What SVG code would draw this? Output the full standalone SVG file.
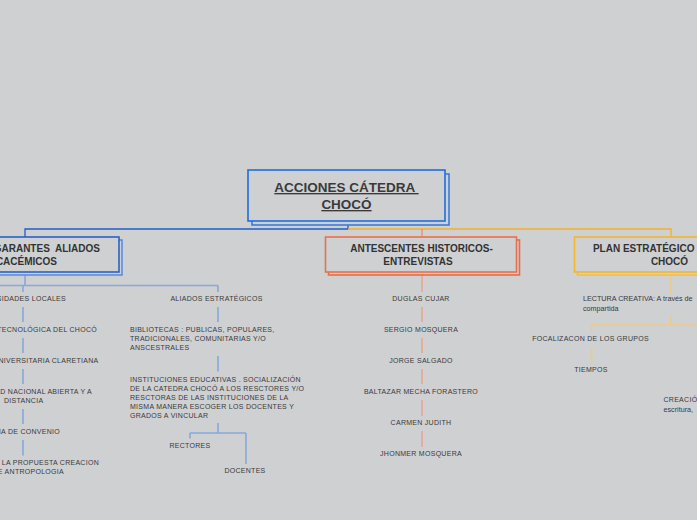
<svg xmlns="http://www.w3.org/2000/svg" width="697" height="520" viewBox="0 0 697 520">
<style>
.bg{fill:#cfd0d2}
.t{font-family:"Liberation Sans",Arial,sans-serif;font-size:7px;fill:#3a3a3a;letter-spacing:0.28px}
.l{font-family:"Liberation Sans",Arial,sans-serif;font-size:7.2px;fill:#3a3a3a}
.h{font-family:"Liberation Sans",Arial,sans-serif;font-size:10px;font-weight:bold;fill:#333}
.r{font-family:"Liberation Sans",Arial,sans-serif;font-size:13.5px;font-weight:bold;fill:#3a3a3a;text-decoration:underline}
.m{text-anchor:middle}
.e{text-anchor:end}
.box{fill:#cfd0d2;stroke-width:1.6}
.cb{stroke:#86a9dc;stroke-width:1.6;fill:none}
.co{stroke:#eba592;stroke-width:1.6;fill:none}
.cy{stroke:#eecb85;stroke-width:1.6;fill:none}
</style>
<rect class="bg" x="0" y="0" width="697" height="520"/>

<g id="connectors">
  <path d="M348 221 V229 H25 V237" stroke="#1f5fc8" stroke-width="1.3" fill="none"/>
  <path d="M348 229 H671 V237" stroke="#f2b02a" stroke-width="1.3" fill="none"/>
  <path d="M422 229 V237" stroke="#ee8a68" stroke-width="1.3" fill="none"/>
  <path class="cb" d="M25 275 V285.5 M-5 285.5 H218 M23 285.5 V292 M218 285.5 V292"/>
  <path class="cb" d="M23 307 V322 M23 338 V353 M23 369 V384 M23 409 V424 M23 440 V455.5"/>
  <path class="cb" d="M218 307 V322 M218 356 V371.5 M218 423 V433 M190 433 H246 M190 433 V438.5 M246 433 V464"/>
  <path class="co" d="M422 275 V292 M422 307 V322 M422 338 V353 M422 369 V384 M422 400 V416 M422 431 V447"/>
  <path class="cy" d="M671 275 V293 M671 315 V325 M591.5 325 H697 M591.5 325 V332 M591.5 348 V363.5"/>
</g>

<g id="root">
  <rect class="box" x="252" y="174" width="197" height="51" stroke="#3a7be0"/>
  <rect class="box" x="248" y="170" width="197" height="51" stroke="#1e6de0"/>
  <text class="r m" x="346.5" y="192" xml:space="preserve">ACCIONES CÁTEDRA </text>
  <text class="r m" x="346.5" y="209">CHOCÓ</text>
</g>

<g id="garantes">
  <rect class="box" x="-7" y="240" width="129" height="35" stroke="#5a8ee0"/>
  <rect class="box" x="-10" y="237" width="129" height="35" stroke="#2a62c9"/>
  <text class="h e" x="100" y="252" xml:space="preserve">GARANTES  ALIADOS</text>
  <text class="h e" x="57" y="264.5">ACACÉMICOS</text>
</g>

<g id="antescentes">
  <rect class="box" x="328.5" y="240" width="191" height="35" stroke="#f06a3c"/>
  <rect class="box" x="325.5" y="237" width="191" height="35" stroke="#e8714f"/>
  <text class="h m" x="421.5" y="252">ANTESCENTES HISTORICOS-</text>
  <text class="h m" x="418" y="264.5">ENTREVISTAS</text>
</g>

<g id="plan">
  <rect class="box" x="577.5" y="240" width="140" height="35" stroke="#f5c040"/>
  <rect class="box" x="574.5" y="237" width="140" height="35" stroke="#f2b630"/>
  <text class="h m" x="669.5" y="252">PLAN ESTRATÉGICO CÁTEDRA</text>
  <text class="h m" x="669.5" y="264.5">CHOCÓ</text>
</g>

<g id="universidades-locales"><text class="t e" x="66" y="301">UNIVERSIDADES LOCALES</text></g>
<g id="utch"><text class="t e" x="97" y="332">UNIVERSIDAD TECNOLÓGICA DEL CHOCÓ</text></g>
<g id="claretiana"><text class="t e" x="98.5" y="363">FUNDACIÓN UNIVERSITARIA CLARETIANA</text></g>
<g id="unad">
  <text class="t e" x="92" y="394">UNIVERSIDAD NACIONAL ABIERTA Y A</text>
  <text class="t" x="4" y="403">DISTANCIA</text>
</g>
<g id="convenio"><text class="t e" x="60" y="434">FIRMA DE CONVENIO</text></g>
<g id="propuesta">
  <text class="t e" x="99" y="465">SOCIALIZACIÓN DE LA PROPUESTA CREACION</text>
  <text class="t e" x="64" y="474">DE ANTROPOLOGIA</text>
</g>

<g id="aliados-estrategicos"><text class="t m" x="216.5" y="301">ALIADOS ESTRATÉGICOS</text></g>
<g id="bibliotecas">
  <text class="t" x="130" y="332">BIBLIOTECAS : PUBLICAS, POPULARES,</text>
  <text class="t" x="130" y="341">TRADICIONALES, COMUNITARIAS Y/O</text>
  <text class="t" x="130" y="350">ANSCESTRALES</text>
</g>
<g id="instituciones">
  <text class="t" x="130" y="381.5">INSTITUCIONES EDUCATIVAS . SOCIALIZACIÓN</text>
  <text class="t" x="130" y="390.5">DE LA CATEDRA CHOCÓ A LOS RESCTORES Y/O</text>
  <text class="t" x="130" y="399.5">RESCTORAS DE LAS INSTITUCIONES DE LA</text>
  <text class="t" x="130" y="408.5">MISMA MANERA ESCOGER LOS DOCENTES Y</text>
  <text class="t" x="130" y="417.5">GRADOS A VINCULAR</text>
</g>
<g id="rectores"><text class="t m" x="190" y="448">RECTORES</text></g>
<g id="docentes"><text class="t m" x="245" y="473">DOCENTES</text></g>

<g id="duglas"><text class="t m" x="421" y="301">DUGLAS CUJAR</text></g>
<g id="sergio"><text class="t m" x="421" y="332">SERGIO MOSQUERA</text></g>
<g id="jorge"><text class="t m" x="421" y="363">JORGE SALGADO</text></g>
<g id="baltazar"><text class="t m" x="421" y="394">BALTAZAR MECHA FORASTERO</text></g>
<g id="carmen"><text class="t m" x="421" y="425">CARMEN JUDITH</text></g>
<g id="jhonmer"><text class="t m" x="421" y="456">JHONMER MOSQUERA</text></g>

<g id="lectura">
  <text class="l" x="583" y="300.5">LECTURA CREATIVA: A través de</text>
  <text class="l" x="583" y="310.5">compartida</text>
</g>
<g id="focalizacion"><text class="t m" x="590.5" y="341">FOCALIZACON DE LOS GRUPOS</text></g>
<g id="tiempos"><text class="t m" x="591" y="372">TIEMPOS</text></g>
<g id="creacion">
  <text class="t" x="663.5" y="402">CREACIÓN</text>
  <text class="l" x="663.5" y="411.5">escritura,</text>
</g>
</svg>
